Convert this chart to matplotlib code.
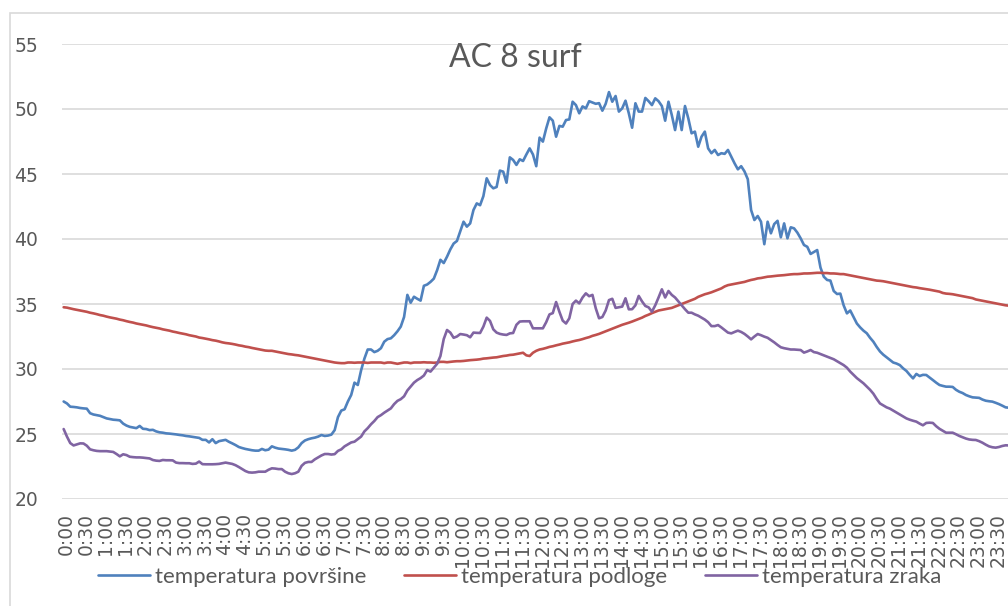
import matplotlib
matplotlib.use("Agg")
import matplotlib.pyplot as plt
from matplotlib.patches import Rectangle
from matplotlib.transforms import ScaledTranslation

# 5-minute readings over one day
times = [f"{h}:{m:02d}" for h in range(24) for m in range(0, 60, 5)]
tick_labels = times[::6]

temp_povrsine = [
    27.5, 27.35, 27.1, 27.08, 27.05, 27.0, 26.97, 26.95, 26.6, 26.5, 26.45, 26.4,
    26.3, 26.2, 26.15, 26.1, 26.08, 26.05, 25.8, 25.65, 25.55, 25.5, 25.45, 25.62,
    25.4, 25.38, 25.3, 25.32, 25.2, 25.13, 25.1, 25.05, 25.03, 25.0, 24.97, 24.93,
    24.9, 24.85, 24.82, 24.78, 24.74, 24.7, 24.55, 24.55, 24.35, 24.6, 24.3, 24.45,
    24.5, 24.55, 24.4, 24.28, 24.15, 24.0, 23.92, 23.85, 23.8, 23.75, 23.72, 23.72,
    23.85, 23.75, 23.8, 24.05, 23.95, 23.88, 23.85, 23.82, 23.78, 23.72, 23.78, 23.97,
    24.3, 24.5, 24.6, 24.67, 24.72, 24.8, 24.92, 24.85, 24.88, 24.95, 25.3, 26.3,
    26.8, 26.9, 27.5, 28.0, 28.95, 28.77, 29.9, 30.8, 31.5, 31.5, 31.3, 31.4,
    31.6, 32.1, 32.3, 32.36, 32.6, 32.9, 33.26, 34.0, 35.7, 35.1, 35.56, 35.4,
    35.26, 36.4, 36.5, 36.7, 36.95, 37.6, 38.4, 38.15, 38.64, 39.2, 39.65, 39.85,
    40.6, 41.33, 40.95, 41.2, 42.23, 42.74, 42.6, 43.3, 44.67, 44.15, 43.9, 44.0,
    45.26, 45.18, 44.33, 46.28, 46.08, 45.7, 46.13, 46.0, 46.5, 46.97, 46.5, 45.6,
    47.8, 47.49, 48.5, 49.36, 49.1, 47.87, 48.7, 48.64, 49.15, 49.2, 50.56, 50.3,
    49.67, 50.2, 50.05, 50.6, 50.5, 50.4, 50.45, 49.87, 50.4, 51.3, 50.56, 51.0,
    49.8, 50.05, 50.64, 49.67, 48.56, 50.44, 49.8, 49.8, 50.85, 50.6, 50.3, 50.82,
    50.6, 50.23, 49.1, 50.56, 49.54, 48.38, 49.8, 48.38, 50.23, 49.28, 48.13, 48.26,
    47.1, 47.87, 48.26, 46.97, 46.6, 46.85, 46.46, 46.6, 46.55, 46.85, 46.33, 45.82,
    45.36, 45.6, 45.2, 44.6, 42.23, 41.46, 41.77, 41.33, 39.6, 41.33, 40.44, 41.15,
    41.4, 40.13, 41.2, 40.05, 40.9, 40.82, 40.49, 40.05, 39.54, 39.4, 38.85, 39.0,
    39.15, 37.8, 37.1, 36.85, 36.8, 36.0, 35.77, 35.8, 34.9, 34.28, 34.5, 34.0,
    33.5, 33.2, 32.95, 32.75, 32.4, 32.1, 31.7, 31.35, 31.1, 30.9, 30.7, 30.5,
    30.42, 30.3, 30.05, 29.85, 29.55, 29.28, 29.62, 29.46, 29.55, 29.54, 29.35, 29.15,
    28.95, 28.77, 28.7, 28.64, 28.64, 28.62, 28.4, 28.25, 28.15, 28.0, 27.9, 27.82,
    27.8, 27.78, 27.65, 27.56, 27.52, 27.49, 27.4, 27.3, 27.18, 27.05, 27.02, 27.0,
]

temp_podloge = [
    34.75, 34.72, 34.66, 34.6, 34.55, 34.5, 34.45, 34.4, 34.33, 34.28, 34.22, 34.15,
    34.1, 34.03, 33.97, 33.92, 33.87, 33.8, 33.75, 33.68, 33.62, 33.57, 33.5, 33.45,
    33.4, 33.35, 33.28, 33.22, 33.17, 33.12, 33.05, 33.0, 32.95, 32.88, 32.83, 32.77,
    32.72, 32.67, 32.6, 32.55, 32.5, 32.42, 32.38, 32.33, 32.28, 32.22, 32.18, 32.12,
    32.05, 32.0, 31.97, 31.93, 31.88, 31.82, 31.78, 31.72, 31.68, 31.62, 31.57, 31.52,
    31.47, 31.42, 31.4, 31.4, 31.35, 31.3, 31.25, 31.2, 31.15, 31.12, 31.08, 31.05,
    31.0, 30.95, 30.9, 30.85, 30.8, 30.75, 30.7, 30.65, 30.6, 30.55, 30.5, 30.47,
    30.45, 30.45, 30.5, 30.5, 30.48, 30.5, 30.5, 30.5, 30.47, 30.5, 30.5, 30.5,
    30.5, 30.45, 30.5, 30.5, 30.45, 30.4, 30.45, 30.5, 30.5, 30.45, 30.5, 30.5,
    30.5, 30.52, 30.5, 30.5, 30.48, 30.5, 30.55, 30.55, 30.52, 30.55, 30.58, 30.6,
    30.6, 30.62, 30.65, 30.68, 30.7, 30.72, 30.75, 30.8, 30.82, 30.85, 30.88, 30.9,
    30.95, 31.0, 31.03, 31.08, 31.1, 31.15, 31.2, 31.25, 31.05, 31.0, 31.25, 31.4,
    31.5, 31.55, 31.62, 31.7, 31.75, 31.82, 31.88, 31.95, 32.0, 32.05, 32.12, 32.18,
    32.23, 32.3, 32.38, 32.45, 32.55, 32.62, 32.7, 32.8, 32.9, 33.0, 33.1, 33.2,
    33.3, 33.4, 33.48, 33.56, 33.65, 33.75, 33.85, 33.95, 34.08, 34.18, 34.3, 34.4,
    34.5, 34.55, 34.6, 34.65, 34.7, 34.8, 34.9, 35.0, 35.1, 35.2, 35.3, 35.4,
    35.55, 35.65, 35.75, 35.82, 35.9, 36.0, 36.1, 36.2, 36.35, 36.45, 36.5, 36.55,
    36.6, 36.65, 36.7, 36.78, 36.85, 36.9, 36.97, 37.0, 37.05, 37.1, 37.12, 37.15,
    37.18, 37.2, 37.22, 37.25, 37.28, 37.3, 37.3, 37.32, 37.35, 37.35, 37.36, 37.38,
    37.4, 37.4, 37.38, 37.38, 37.35, 37.35, 37.33, 37.3, 37.3, 37.25, 37.2, 37.15,
    37.1, 37.05, 37.0, 36.95, 36.9, 36.85, 36.8, 36.78, 36.75, 36.7, 36.65, 36.6,
    36.55, 36.5, 36.45, 36.4, 36.35, 36.3, 36.27, 36.22, 36.18, 36.14, 36.1, 36.05,
    36.0, 35.95, 35.85, 35.8, 35.78, 35.75, 35.7, 35.65, 35.6, 35.55, 35.5, 35.45,
    35.35, 35.3, 35.25, 35.2, 35.15, 35.1, 35.05, 35.0, 34.95, 34.9, 34.87, 34.85,
]

temp_zraka = [
    25.38, 24.8, 24.3, 24.12, 24.2, 24.28, 24.27, 24.1, 23.82, 23.75, 23.7, 23.68,
    23.68, 23.68, 23.65, 23.62, 23.46, 23.28, 23.44, 23.38, 23.25, 23.22, 23.2, 23.2,
    23.18, 23.15, 23.12, 23.0, 22.95, 22.93, 23.0, 22.98, 22.98, 22.97, 22.8, 22.76,
    22.76, 22.75, 22.75, 22.7, 22.72, 22.88, 22.68, 22.67, 22.67, 22.67, 22.68, 22.7,
    22.75, 22.8, 22.75, 22.7, 22.6, 22.46, 22.3, 22.15, 22.05, 22.03, 22.05, 22.1,
    22.1, 22.1, 22.25, 22.36, 22.34, 22.3, 22.3, 22.1, 21.98, 21.92, 21.98, 22.1,
    22.55, 22.78, 22.85, 22.85, 23.05, 23.2, 23.35, 23.46, 23.46, 23.42, 23.45, 23.7,
    23.82, 24.05, 24.2, 24.35, 24.41, 24.6, 24.8, 25.2, 25.45, 25.75, 26.0, 26.3,
    26.45, 26.64, 26.8, 26.97, 27.3, 27.55, 27.68, 27.9, 28.35, 28.65, 28.95, 29.15,
    29.3, 29.5, 29.92, 29.8, 30.1, 30.4, 31.0, 32.3, 33.0, 32.8, 32.4, 32.5,
    32.69, 32.65, 32.6, 32.44, 32.8, 32.78, 32.77, 33.26, 33.95, 33.7, 33.05, 32.8,
    32.7, 32.65, 32.62, 32.74, 32.77, 33.4, 33.65, 33.67, 33.67, 33.67, 33.13, 33.13,
    33.13, 33.13, 33.6, 34.2, 34.3, 35.15, 34.4, 33.72, 33.5, 33.9, 35.0, 35.26,
    35.05, 35.5, 35.82, 35.6, 35.7, 34.67, 33.9, 34.0, 34.5, 35.3, 35.4, 34.7,
    34.75, 34.8, 35.44, 34.59, 34.6, 34.9, 35.62, 35.2, 34.85, 34.74, 34.41, 34.9,
    35.5, 36.13, 35.5, 36.0, 35.7, 35.5, 35.2, 34.9, 34.6, 34.33, 34.33, 34.2,
    34.1, 33.95, 33.8, 33.6, 33.3, 33.3, 33.38, 33.2, 33.0, 32.8, 32.74, 32.85,
    32.95, 32.85, 32.7, 32.5, 32.28, 32.5, 32.69, 32.6, 32.49, 32.4, 32.23, 32.05,
    31.85, 31.67, 31.6, 31.55, 31.5, 31.5, 31.48, 31.46, 31.26, 31.35, 31.46, 31.3,
    31.25, 31.15, 31.05, 30.95, 30.85, 30.75, 30.6, 30.45, 30.3, 30.1, 29.8, 29.55,
    29.3, 29.1, 28.9, 28.65, 28.4, 28.1, 27.7, 27.35, 27.2, 27.05, 26.95, 26.8,
    26.65, 26.5, 26.35, 26.2, 26.1, 26.02, 25.95, 25.8, 25.67, 25.85, 25.87, 25.85,
    25.6, 25.4, 25.25, 25.1, 25.1, 25.1, 24.98, 24.85, 24.75, 24.65, 24.58, 24.55,
    24.54, 24.45, 24.33, 24.18, 24.05, 23.98, 23.95, 24.0, 24.08, 24.13, 24.12, 24.1,
]

series_names = ["temperatura površine", "temperatura podloge", "temperatura zraka"]
series_colors = ["#4F81BD", "#C0504D", "#8064A2"]
y_ticks = [20, 25, 30, 35, 40, 45, 50, 55]

W, H = 1008, 606
fig = plt.figure(figsize=(W / 100, H / 100), dpi=100)
fig.patch.set_facecolor("white")

# chart-area border (left and top edges visible)
fig.add_artist(Rectangle((10 / W, -0.05), 1.2, 1 - 13 / H + 0.05,
                         transform=fig.transFigure, fill=False,
                         edgecolor="#d9d9d9", linewidth=1.2))

n = len(times)
px = 3.305
left = 62
ax = fig.add_axes([left / W, (H - 499) / H, n * px / W, (499 - 44) / H])
ax.set_facecolor("none")

x = list(range(n))
for vals, name, col in zip([temp_povrsine, temp_podloge, temp_zraka],
                           series_names, series_colors):
    ax.plot(x, vals, color=col, linewidth=1.9, label=name,
            solid_joinstyle="round", solid_capstyle="round")

ax.set_xlim(-0.5, n - 0.5)
ax.set_ylim(20, 55)
ax.set_yticks(y_ticks)
ax.set_yticklabels([str(v) for v in y_ticks])
ax.set_xticks(x[::6])
ax.set_xticklabels(tick_labels, rotation=90, va="top", ha="center")

ax.grid(axis="y", color="#d9d9d9", linewidth=1.2)
ax.set_axisbelow(True)
for s in ax.spines.values():
    s.set_visible(False)
ax.tick_params(axis="both", length=0, labelcolor="#595959", labelsize=13.5)
ax.tick_params(axis="y", pad=17)
ax.tick_params(axis="x", pad=10)
shift = ScaledTranslation(2.5 / 100, 0, fig.dpi_scale_trans)
for lab in ax.get_xticklabels():
    lab.set_family("DejaVu Sans")
    lab.set_transform(lab.get_transform() + shift)
for lab in ax.get_yticklabels():
    lab.set_family("DejaVu Sans")

fig.text(515 / W, 1 - 58 / H, "AC 8 surf", ha="center", va="center",
         fontsize=23, color="#595959", family="Lato")

leg = ax.legend(loc="center left", bbox_to_anchor=(98 / W, 1 - 577 / H),
                bbox_transform=fig.transFigure, ncol=3, frameon=False,
                prop={"family": "Lato", "size": 16}, borderpad=0,
                borderaxespad=0, handlelength=2.34, handletextpad=0.23,
                columnspacing=1.7)
for t in leg.get_texts():
    t.set_color("#595959")

fig.savefig("out.png", dpi=100)
